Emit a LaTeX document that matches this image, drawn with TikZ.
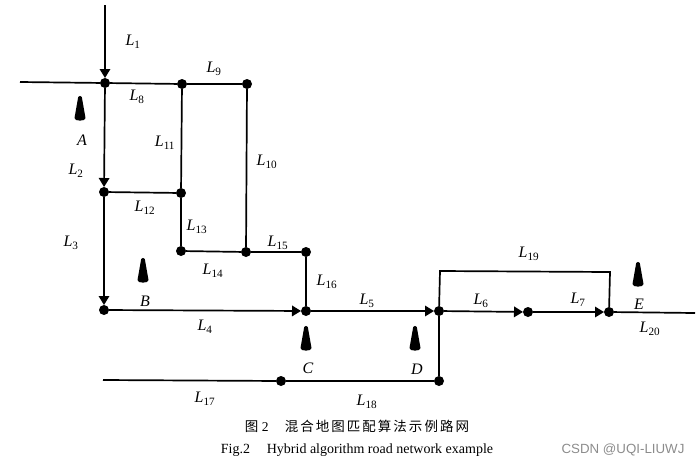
\documentclass[tikz,border=0pt]{standalone}
\usepackage{fontspec}
\setmainfont{Liberation Serif}
\newfontfamily\cjk[LetterSpace=15]{Noto Sans CJK SC}
\newfontfamily\wmfont{Liberation Sans}
\usetikzlibrary{arrows.meta}
\newcommand{\rdname}[1]{\textit{L}\textsubscript{#1}}

\begin{document}
\begin{tikzpicture}[x=1pt, y=-1pt, line width=1.7pt,
    dot/.style={circle, fill=black, inner sep=0pt, outer sep=0pt, minimum size=10pt},
    free/.style={inner sep=0pt, outer sep=0pt, minimum size=0pt},
    road/.style={draw, line width=1.7pt},
    line/.style={road, -{Triangle[length=9pt,width=10.5pt]}},
    lab/.style={font=\fontsize{16}{18}\selectfont, inner sep=0pt},
    captext/.style={font=\fontsize{13.5}{16}\selectfont, inner sep=0pt},
    car/.pic={\fill (-1.8,-12) .. controls (-0.6,-13.5) and (0.6,-13.5) .. (1.8,-12) -- (5.5,9) .. controls (6,12.5) and (-6,12.5) .. (-5.5,9) -- cycle;}]
    \useasboundingbox (0,0) rectangle (699,467);

    \node [free] (top) at (105,5) {};
    \node [free] (west) at (20,82) {};
    \node [dot] (cross) at (105,83) {};
    \node [dot] (mid) at (182,84) {};
    \node [dot] (corner) at (247,84) {};
    \node [dot] (left) at (104,192) {};
    \node [dot] (inner) at (181,193) {};
    \node [dot] (low) at (181,251) {};
    \node [dot] (lowr) at (246,252) {};
    \node [dot] (step) at (306,252) {};
    \node [dot] (bottom) at (104,310) {};
    \node [dot] (nodec) at (306,311) {};
    \node [dot] (noded) at (439,311) {};
    \node [dot] (six) at (528,312) {};
    \node [dot] (seven) at (609,312) {};
    \node [free] (east) at (695,313) {};
    \node [free] (upl) at (440,271) {};
    \node [free] (upr) at (610,272) {};
    \node [free] (south) at (103,380) {};
    \node [dot] (sdot) at (281,381) {};
    \node [dot] (send) at (439,381) {};

    \path [line] (top) -- (cross);
    \path [line] (cross) -- (left);
    \path [line] (left) -- (bottom);
    \path [line] (bottom) -- (nodec);
    \path [line] (nodec) -- (noded);
    \path [line] (noded) -- (six);
    \path [line] (six) -- (seven);
    \path [road] (west) -- (cross);
    \path [road] (cross) -- (mid);
    \path [road] (mid) -- (corner);
    \path [road] (mid) -- (inner);
    \path [road] (inner) -- (low);
    \path [road] (corner) -- (lowr);
    \path [road] (left) -- (inner);
    \path [road] (low) -- (lowr);
    \path [road] (lowr) -- (step);
    \path [road] (step) -- (nodec);
    \path [road] (seven) -- (east);
    \path [road] (south) -- (sdot);
    \path [road] (sdot) -- (send);
    \path [road] (send) -- (noded);
    \path [road] (noded) -- (upl.center) -- (upr.center) -- (seven);

    \pic at (80,109) {car};
    \pic at (143,271) {car};
    \pic at (306,339) {car};
    \pic at (415,339) {car};
    \pic at (638,275) {car};

    \node [lab] (l1) at (133,42) {\rdname{1}};
    \node [lab] (l2) at (76,171) {\rdname{2}};
    \node [lab] (l3) at (71,243) {\rdname{3}};
    \node [lab] (l4) at (205,327) {\rdname{4}};
    \node [lab] (l5) at (367,301) {\rdname{5}};
    \node [lab] (l6) at (481,301) {\rdname{6}};
    \node [lab] (l7) at (578,300) {\rdname{7}};
    \node [lab] (l8) at (137,97) {\rdname{8}};
    \node [lab] (l9) at (214,69) {\rdname{9}};
    \node [lab] (l10) at (267,162) {\rdname{10}};
    \node [lab] (l11) at (165,143) {\rdname{11}};
    \node [lab] (l12) at (145,208) {\rdname{12}};
    \node [lab] (l13) at (197,227) {\rdname{13}};
    \node [lab] (l14) at (213,271) {\rdname{14}};
    \node [lab] (l15) at (278,243) {\rdname{15}};
    \node [lab] (l16) at (327,282) {\rdname{16}};
    \node [lab] (l17) at (205,399) {\rdname{17}};
    \node [lab] (l18) at (367,402) {\rdname{18}};
    \node [lab] (l19) at (529,254) {\rdname{19}};
    \node [lab] (l20) at (650,329) {\rdname{20}};

    \node [lab] (a) at (82,140) {\textit{A}};
    \node [lab] (b) at (145,301) {\textit{B}};
    \node [lab] (c) at (308,368) {\textit{C}};
    \node [lab] (d) at (417,369) {\textit{D}};
    \node [lab] (e) at (639,304) {\textit{E}};

    \node [captext] (title) at (357,426) {{\cjk 图} 2\hspace{1.2em}{\cjk 混合地图匹配算法示例路网}};
    \node [font=\fontsize{14}{16}\selectfont, inner sep=0pt] (titleen) at (357,450) {Fig.2\hspace{1.2em}Hybrid algorithm road network example};
    \node [font=\wmfont\fontsize{13.3}{15}\selectfont, inner sep=0pt, text=black!45] (mark) at (623,450) {CSDN @UQI-LIUWJ};
\end{tikzpicture}
\end{document}
